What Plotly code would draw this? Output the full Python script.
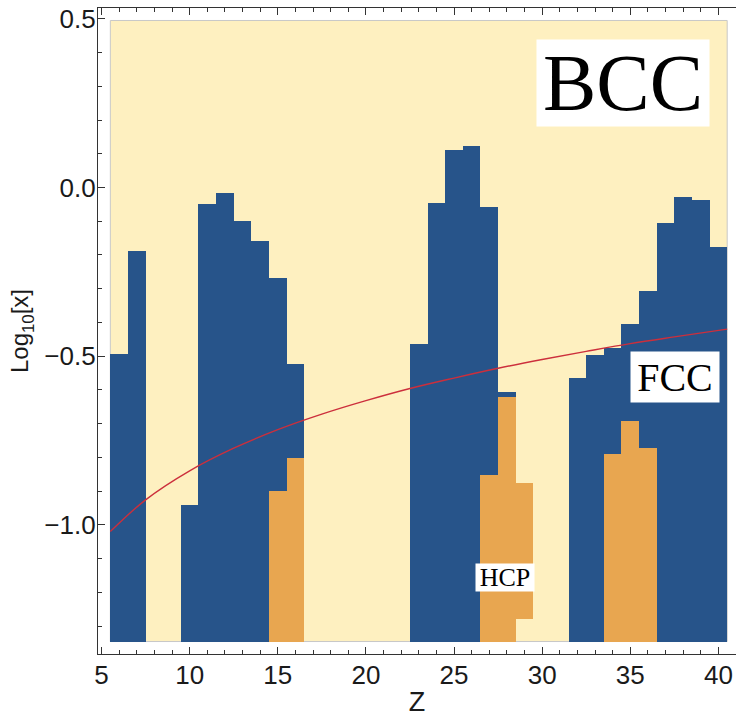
import plotly.graph_objects as go

# ---- data ----
region_z = [5.5, 40.5]            # extent of the phase map in Z
region_logx = [-1.346, 0.495]     # extent of the phase map in Log10[x]

fcc_z = [6, 7, 10, 11, 12, 13, 14, 15, 16, 23, 24, 25, 26, 27, 28,
         32, 33, 34, 35, 36, 37, 38, 39, 40]
fcc_top = [-0.494, -0.188, -0.942, -0.049, -0.017, -0.098, -0.158, -0.267, -0.524,
           -0.465, -0.047, 0.111, 0.123, -0.057, -0.605,
           -0.564, -0.497, -0.477, -0.406, -0.307, -0.104, -0.029, -0.037, -0.176]

hcp_z = [15, 16, 27, 28, 29, 34, 35, 36]
hcp_top = [-0.901, -0.801, -0.851, -0.621, -0.875, -0.791, -0.692, -0.771]
hcp_bottom = [-1.346, -1.346, -1.346, -1.346, -1.278, -1.346, -1.346, -1.346]

curve_z = [5.5, 7.5, 10, 12.5, 15, 17.5, 20, 22.5, 25, 27.5, 30, 32.5, 35, 37.5, 40.5]
curve_logx = [-1.020, -0.926, -0.840, -0.773, -0.718, -0.672, -0.632, -0.596,
              -0.565, -0.536, -0.510, -0.486, -0.463, -0.443, -0.420]

x_ticks = [5, 10, 15, 20, 25, 30, 35, 40]
y_ticks = [0.5, 0.0, -0.5, -1.0]
y_tick_text = ["0.5", "0.0", "\u22120.5", "\u22121.0"]

BLUE = "#27548a"
ORANGE = "#e8a650"
YELLOW = "#fef0c0"
RED = "#cc2f3c"

fig = go.Figure()

base = region_logx[0]
fig.add_trace(go.Bar(
    x=fcc_z, y=[t - base for t in fcc_top], base=base, width=1,
    marker=dict(color=BLUE, line=dict(width=0)), showlegend=False, hoverinfo="skip"))
fig.add_trace(go.Bar(
    x=hcp_z, y=[t - b for t, b in zip(hcp_top, hcp_bottom)], base=hcp_bottom, width=1,
    marker=dict(color=ORANGE, line=dict(width=0)), showlegend=False, hoverinfo="skip"))
fig.add_trace(go.Scatter(
    x=curve_z, y=curve_logx, mode="lines", line=dict(color=RED, width=1.4, shape="spline"),
    showlegend=False, hoverinfo="skip"))

# BCC background region
fig.add_shape(type="rect", xref="x", yref="y",
              x0=region_z[0], x1=region_z[1], y0=region_logx[0], y1=region_logx[1],
              fillcolor=YELLOW, line=dict(color="#c8c8c8", width=1), layer="below")

serif = "Liberation Serif, Times New Roman, serif"
fig.add_annotation(x=34.59, y=0.310, xref="x", yref="y", text="BCC", showarrow=False,
                   font=dict(family=serif, size=80, color="black"),
                   bgcolor="white", width=172, height=86, borderpad=0)
fig.add_annotation(x=37.54, y=-0.562, xref="x", yref="y", text="FCC", showarrow=False,
                   font=dict(family=serif, size=40, color="black"),
                   bgcolor="white", width=88, height=50, borderpad=0)
fig.add_annotation(x=27.89, y=-1.157, xref="x", yref="y", text="HCP", showarrow=False,
                   font=dict(family=serif, size=26, color="black"),
                   bgcolor="white", width=58, height=27, borderpad=0)

sans = "Liberation Sans, Arial, sans-serif"
axis_common = dict(
    showline=True, linecolor="#333333", linewidth=1.2,
    ticks="inside", ticklen=7, tickwidth=1, tickcolor="#333333",
    showgrid=False, zeroline=False, ticklabeloverflow="allow",
    tickfont=dict(family=sans, size=26, color="#1a1a1a"),
)

fig.update_xaxes(
    range=[4.8, 41.0], tickvals=x_ticks, ticktext=[str(v) for v in x_ticks],
    mirror="allticks", ticklabelstandoff=-2,
    minor=dict(dtick=1, tick0=5, ticklen=4, tickcolor="#333333", ticks="inside"),
    title=dict(text="Z", font=dict(family=sans, size=27, color="#1a1a1a"), standoff=2),
    **axis_common)
fig.update_yaxes(
    range=[-1.383, 0.532], tickvals=y_ticks, ticktext=y_tick_text,
    mirror=False, ticklabelstandoff=-4,
    minor=dict(dtick=0.1, tick0=0, ticklen=4, tickcolor="#333333", ticks="inside"),
    title=dict(text="Log<sub>10</sub>[x]", font=dict(family=sans, size=24, color="#1a1a1a"), standoff=8),
    **axis_common)

fig.update_layout(
    width=736, height=721,
    margin=dict(l=98, r=0, t=8, b=67, autoexpand=False),
    paper_bgcolor="white", plot_bgcolor="white",
    barmode="overlay", bargap=0,
)

# remove the default page margin so the figure fills the window exactly
fig.write_html("out.html",
               config=dict(displayModeBar=False),
               post_script="document.body.style.margin='0';document.body.style.overflow='hidden';")
